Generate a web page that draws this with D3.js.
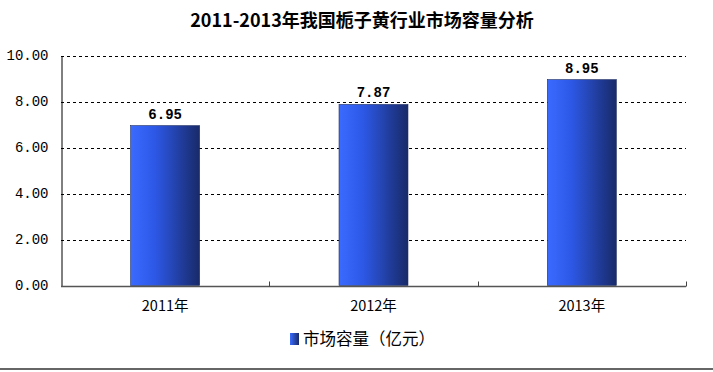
<!DOCTYPE html>
<html><head><meta charset="utf-8">
<script src="https://cdn.jsdelivr.net/npm/d3@7"></script>
<style>body{margin:0;background:#fff}svg{display:block}</style>
</head><body>
<svg id="c" width="713" height="372"></svg>
<script>
const categories = ["2011年", "2012年", "2013年"];
const values = [6.95, 7.87, 8.95];
const yTicks = [0, 2, 4, 6, 8, 10];
const titleText = "2011-2013年我国栀子黄行业市场容量分析";
const seriesName = "市场容量（亿元）";

const svg = d3.select("#c");
const W = 713, H = 372;
const m = {left: 61, right: 27, top: 55.5, bottom: 86.5};
const x = d3.scaleBand().domain(categories).range([m.left, W - m.right]).paddingInner(0.669).paddingOuter(0.3345);
const y = d3.scaleLinear().domain([0, 10]).range([H - m.bottom, m.top]);

const defs = svg.append("defs");
const g = defs.append("linearGradient").attr("id", "barg").attr("x1", "0").attr("x2", "1").attr("y1", "0").attr("y2", "0");
g.append("stop").attr("offset", "0%").attr("stop-color", "#3a6bff");
g.append("stop").attr("offset", "35%").attr("stop-color", "#2d58e6");
g.append("stop").attr("offset", "100%").attr("stop-color", "#182a68");
const lg = defs.append("linearGradient").attr("id", "legg").attr("x1", "0").attr("x2", "1");
lg.append("stop").attr("offset", "0%").attr("stop-color", "#3a6bff");
lg.append("stop").attr("offset", "100%").attr("stop-color", "#182a68");

// title
svg.append("text").attr("x", 362).attr("y", 27).attr("text-anchor", "middle")
  .attr("font-family", "'Noto Sans CJK SC', sans-serif").attr("font-weight", "bold")
  .attr("font-size", 18).attr("fill", "#000").text(titleText);

// gridlines
svg.append("g").selectAll("line").data(yTicks.filter(d => d > 0)).join("line")
  .attr("x1", m.left).attr("x2", W - m.right)
  .attr("y1", d => Math.round(y(d)) + 0.5).attr("y2", d => Math.round(y(d)) + 0.5)
  .attr("stroke", "#000").attr("stroke-width", 1).attr("stroke-dasharray", "3,3");

// bars
svg.append("g").selectAll("rect").data(values).join("rect")
  .attr("x", (d, i) => x(categories[i])).attr("width", x.bandwidth())
  .attr("y", d => y(d)).attr("height", d => y(0) - y(d))
  .attr("fill", "url(#barg)").attr("stroke", "#1a2a60").attr("stroke-width", 0.6);

// value labels
svg.append("g").selectAll("text").data(values).join("text")
  .attr("x", (d, i) => x(categories[i]) + x.bandwidth() / 2)
  .attr("y", d => y(d) - 7).attr("text-anchor", "middle")
  .attr("font-family", "'Liberation Mono', monospace").attr("font-weight", "bold")
  .attr("font-size", 14).attr("fill", "#000").text(d => d.toFixed(2));

// y axis
const yAxis = d3.axisLeft(y).tickValues(yTicks).tickSize(0).tickPadding(13).tickFormat(d => d.toFixed(2));
const ya = svg.append("g").attr("transform", `translate(${m.left + 0.5},0)`).call(yAxis);
ya.select(".domain").attr("stroke", "#000");
ya.selectAll("text").attr("font-family", "'Liberation Mono', monospace").attr("font-size", 14).attr("fill", "#000");

// x axis
const xa = svg.append("g").attr("transform", `translate(0,${Math.round(y(0)) + 0.5})`);
xa.append("line").attr("x1", m.left).attr("x2", W - m.right).attr("stroke", "#555").attr("stroke-width", 1.5);
const bounds = categories.map(c => x(c) + x.bandwidth() + x.step() * x.paddingInner() / 2);
xa.selectAll("line.tk").data(bounds).join("line").attr("class", "tk")
  .attr("x1", d => Math.round(d) + 0.5).attr("x2", d => Math.round(d) + 0.5).attr("y1", 0).attr("y2", -5)
  .attr("stroke", "#444");
xa.selectAll("text").data(categories).join("text")
  .attr("x", d => x(d) + x.bandwidth() / 2).attr("y", 24).attr("text-anchor", "middle")
  .attr("font-family", "'Noto Sans CJK SC', sans-serif").attr("font-size", 14.5).attr("fill", "#000").text(d => d);

// legend
const leg = svg.append("g").attr("transform", "translate(290,333)");
leg.append("rect").attr("x", 0).attr("y", 0).attr("width", 9).attr("height", 12).attr("fill", "url(#legg)");
leg.append("text").attr("x", 13).attr("y", 12).attr("font-family", "'Noto Sans CJK SC', sans-serif")
  .attr("font-size", 16.5).attr("fill", "#000").text(seriesName);

// bottom frame line
svg.append("line").attr("x1", 0).attr("x2", W).attr("y1", 369).attr("y2", 369).attr("stroke", "#666").attr("stroke-width", 2);
</script>
</body></html>
